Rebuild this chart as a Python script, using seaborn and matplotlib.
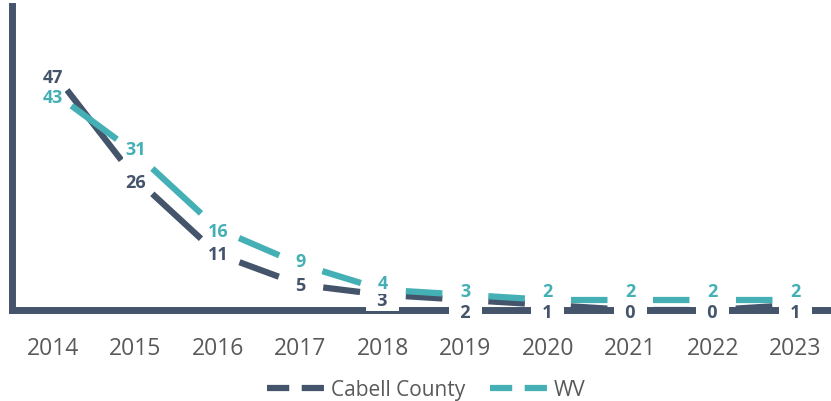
import matplotlib
matplotlib.use("Agg")
import matplotlib.pyplot as plt
import numpy as np
import pandas as pd
import seaborn as sns
from matplotlib.lines import Line2D

sns.set_theme(style="white")
plt.rcParams["font.family"] = ["Open Sans", "DejaVu Sans"]
plt.rcParams["lines.scale_dashes"] = False

# data
years = [2014, 2015, 2016, 2017, 2018, 2019, 2020, 2021, 2022, 2023]
cabell = [47, 26, 11, 5, 3, 2, 1, 0, 0, 1]
wv = [43, 31, 16, 9, 4, 3, 2, 2, 2, 2]
series_names = ["Cabell County", "WV"]

DARK = "#44546A"
TEAL = "#44B0B5"
GREY = "#595959"
colors = {"Cabell County": DARK, "WV": TEAL}

# label nudges in pixels (positive = down), to mimic the hand placed labels
cabell_dy = [5, 4, 0, 0, 5, 12, 7, 2, 2, 7]
wv_dy = [5, -4, 2, -3, -7, -4, -9, -9, -9, -9]

# one row pair per segment so each segment gets its own dash pattern
rows = []
for name, vals in zip(series_names, [cabell, wv]):
    for i in range(len(years) - 1):
        for j in (i, i + 1):
            rows.append({"series": name, "seg": i, "year": years[j], "value": vals[j]})
seg_df = pd.DataFrame(rows)

DPI = 100
fig = plt.figure(figsize=(8.31, 4.02), dpi=DPI)
W, H = 831, 402
left_px, right_px, top_px, bottom_px = 11.7, 836.5, 7, 311
ax = fig.add_axes([left_px / W, 1 - bottom_px / H,
                   (right_px - left_px) / W, (bottom_px - top_px) / H])

sns.lineplot(data=seg_df, x="year", y="value", hue="series", units="seg",
             estimator=None, palette=colors, linewidth=4.5, legend=False,
             sort=False, ax=ax)

ax.set_xlim(2013.5, 2023.5)
ax.set_ylim(0, 60)

# dash per segment: gap near each point, one dash in the middle
gap = 23 * 72 / DPI
for line in ax.lines:
    pts = ax.transData.transform(line.get_xydata())
    L = np.hypot(*(pts[1] - pts[0])) * 72 / DPI
    on = max(L - 2 * gap, 1)
    off = 2 * gap + 20
    line.set_linestyle((on + off - gap, (on, off)))
    line.set_dash_capstyle("butt")
    line.set_zorder(2)

for vals, dys, name in [(cabell, cabell_dy, "Cabell County"), (wv, wv_dy, "WV")]:
    c = colors[name]
    for x, v, dy in zip(years, vals, dys):
        txt = str(v)
        if name == "Cabell County" and v <= 3:
            txt = "  " + txt + "  "
        ax.annotate(txt, (x, v), xytext=(0, -dy * 72 / DPI), textcoords="offset points",
                    ha="center", va="center", fontsize=13, fontweight="bold", color=c,
                    bbox=dict(boxstyle="square,pad=0.12", fc="white", ec="none"),
                    annotation_clip=False, zorder=4)

for s in ["top", "right"]:
    ax.spines[s].set_visible(False)
for s in ["left", "bottom"]:
    ax.spines[s].set_color(DARK)
    ax.spines[s].set_linewidth(5)
    ax.spines[s].set_zorder(1)

ax.set_xticks(years)
ax.set_xticklabels([str(y) for y in years])
ax.set_yticks([])
ax.tick_params(axis="x", length=0, pad=19, labelsize=16.5, labelcolor=GREY)
ax.set_xlabel("")
ax.set_ylabel("")

handles = [Line2D([], [], color=colors[n], lw=4.5, linestyle=(0, (16, 9)),
                  dash_capstyle="butt") for n in series_names]
leg = fig.legend(handles, series_names, loc="center", bbox_to_anchor=(0.513, 0.028),
                 ncol=2, frameon=False, fontsize=15, handlelength=2.9,
                 handletextpad=0.15, columnspacing=1.2, labelcolor=GREY)

fig.savefig("out.png", dpi=DPI)
